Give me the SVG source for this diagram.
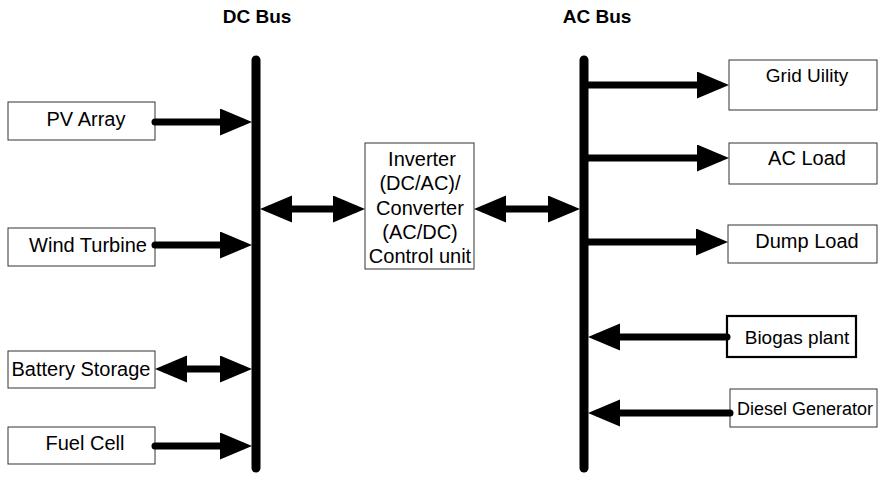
<svg xmlns="http://www.w3.org/2000/svg" width="878" height="477" viewBox="0 0 878 477">
<style>
.box{fill:#fff;stroke:#333;stroke-width:1}
.thick{stroke:#000;stroke-width:2.2}
.t{font-family:"Liberation Sans",Arial,sans-serif;font-size:20px;fill:#000;text-anchor:middle}
.h{font-family:"Liberation Sans",Arial,sans-serif;font-size:19px;font-weight:bold;fill:#000;text-anchor:middle}
.bus{stroke:#000;stroke-width:9;stroke-linecap:round;fill:none}
.c{stroke:#000;stroke-width:7;stroke-linecap:round;fill:none}
.a{marker-end:url(#ah)}
.d{marker-start:url(#ah);marker-end:url(#ah)}
</style>
<defs>
<marker id="ah" markerUnits="userSpaceOnUse" markerWidth="34" markerHeight="28" refX="22" refY="13.5" orient="auto-start-reverse" viewBox="0 0 34 28">
<path d="M0,0 L32,13.5 L0,27 z" fill="#000"/>
</marker>
</defs>
<rect width="878" height="477" fill="#fff"/>
<g id="dc-bus"><text class="h" x="257" y="23">DC Bus</text><line class="bus" x1="256" y1="60" x2="256" y2="468"/></g>
<g id="ac-bus"><text class="h" x="597" y="23">AC Bus</text><line class="bus" x1="584" y1="60" x2="584" y2="468"/></g>
<g id="pv"><rect class="box" x="8" y="102" width="147" height="38"/><text class="t" x="86" y="126">PV Array</text></g>
<g id="wind"><rect class="box" x="8" y="228" width="147" height="38"/><text class="t" x="88" y="252">Wind Turbine</text></g>
<g id="battery"><rect class="box" x="8" y="351" width="147" height="37"/><text class="t" x="81" y="376">Battery Storage</text></g>
<g id="fuel"><rect class="box" x="8" y="427" width="147" height="37"/><text class="t" x="85" y="450">Fuel Cell</text></g>
<g id="inverter"><rect class="box" x="365" y="143" width="109" height="126"/>
<text class="t" x="422" y="166">Inverter</text>
<text class="t" x="420" y="190">(DC/AC)/</text>
<text class="t" x="420" y="215">Converter</text>
<text class="t" x="420" y="239">(AC/DC)</text>
<text class="t" x="420" y="263">Control unit</text></g>
<g id="grid"><rect class="box" x="729" y="60" width="148" height="50"/><text class="t" x="807" y="82" style="font-size:19px">Grid Uility</text></g>
<g id="acload"><rect class="box" x="729" y="143" width="148" height="41"/><text class="t" x="807" y="165">AC Load</text></g>
<g id="dump"><rect class="box" x="728" y="225" width="149" height="38"/><text class="t" x="807" y="248">Dump Load</text></g>
<g id="biogas"><rect class="box thick" x="727" y="316" width="129" height="41"/><text class="t" x="797" y="344" style="font-size:19px">Biogas plant</text></g>
<g id="diesel"><rect class="box" x="730" y="389" width="147" height="38"/><text class="t" x="805" y="415" style="font-size:18px">Diesel Generator</text></g>
<g id="connectors">
<line class="c a" x1="155" y1="122" x2="242" y2="122"/>
<line class="c a" x1="155" y1="245" x2="242" y2="245"/>
<line class="c d" x1="165" y1="369" x2="242" y2="369"/>
<line class="c a" x1="155" y1="446" x2="242" y2="446"/>
<line class="c d" x1="270" y1="209" x2="355" y2="209"/>
<line class="c d" x1="484" y1="209" x2="570" y2="209"/>
<line class="c a" x1="588" y1="85" x2="719" y2="85"/>
<line class="c a" x1="588" y1="158" x2="719" y2="158"/>
<line class="c a" x1="588" y1="242" x2="718" y2="242"/>
<line class="c a" x1="727" y1="337" x2="598" y2="337"/>
<line class="c a" x1="730" y1="413" x2="598" y2="413"/>
</g>
</svg>
